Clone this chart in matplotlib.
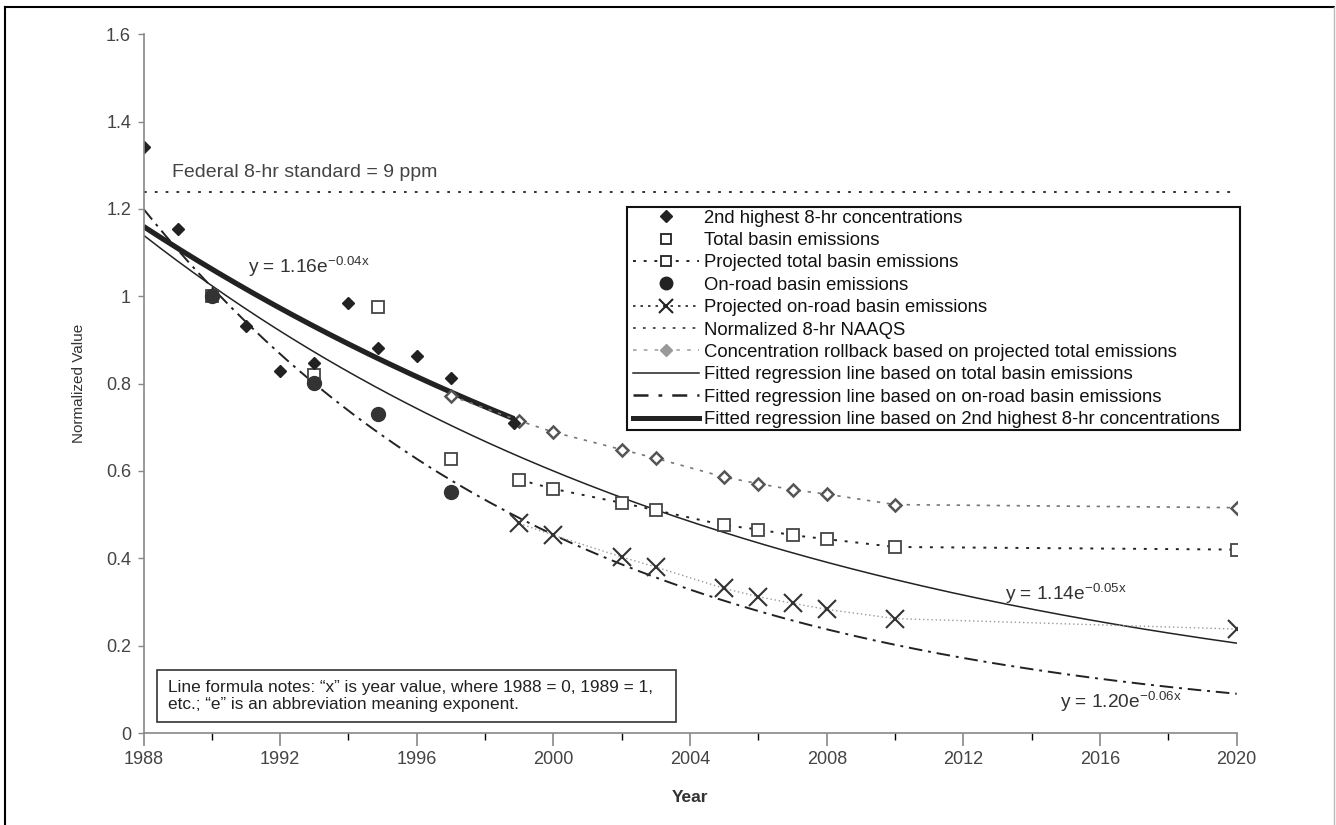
import numpy as np
import matplotlib
matplotlib.use('Agg')
import matplotlib.pyplot as plt
from matplotlib.lines import Line2D
from matplotlib.patches import Rectangle

plt.rcParams['font.family'] = ['Liberation Sans', 'DejaVu Sans']
plt.rcParams['mathtext.fontset'] = 'custom'
plt.rcParams['mathtext.rm'] = 'Liberation Sans'
plt.rcParams['mathtext.default'] = 'regular'

# observed data
conc_years = [1988, 1989, 1991, 1992, 1993, 1994, 1994.85, 1996, 1997, 1998.85]
conc_vals = [1.343, 1.153, 0.931, 0.830, 0.847, 0.984, 0.881, 0.864, 0.812, 0.710]

total_years = [1990, 1993, 1994.85, 1997]
total_vals = [1.0, 0.819, 0.975, 0.628]

onroad_years = [1990, 1993, 1994.85, 1997]
onroad_vals = [1.0, 0.801, 0.731, 0.553]

# projections
proj_years = [1999, 2000, 2002, 2003, 2005, 2006, 2007, 2008, 2010, 2020]
proj_total = [0.580, 0.559, 0.527, 0.510, 0.476, 0.466, 0.453, 0.444, 0.426, 0.420]
proj_onroad = [0.480, 0.453, 0.403, 0.380, 0.331, 0.312, 0.297, 0.283, 0.262, 0.238]
rollback_years = [1997, 1999, 2000, 2002, 2003, 2005, 2006, 2007, 2008, 2010, 2020]
rollback_vals = [0.772, 0.715, 0.689, 0.649, 0.629, 0.586, 0.571, 0.557, 0.547, 0.523, 0.516]

naaqs = 1.24

# fitted curves y = a*exp(-b*(year-1988)) as drawn
fit_conc = (1.16, 0.044, 1998.85)
fit_total = (1.14, 0.0535, 2020)
fit_onroad = (1.20, 0.081, 2020)

dark = '#222222'

fig = plt.figure(figsize=(13.36, 8.25), dpi=100)
ax = fig.add_axes([143.5 / 1336, 1 - 733 / 825, (1236.7 - 143.5) / 1336, (733 - 34.3) / 825])


def curve(p):
    a, b, end = p
    yrs = np.linspace(1988, end, 200)
    return yrs, a * np.exp(-b * (yrs - 1988))


def px(xp, yp):
    # pixel position -> axes fraction
    return (xp - 143.5) / 1093.2, (733 - yp) / 698.7


ax.plot([1988, 2020], [naaqs, naaqs], color=dark, lw=1.3, ls=(0, (1.5, 4.5)))

x, y = curve(fit_total)
ax.plot(x, y, color=dark, lw=1.1)
x, y = curve(fit_onroad)
ax.plot(x, y, color=dark, lw=1.4, ls=(0, (7, 3, 1.5, 3)))
x, y = curve(fit_conc)
ax.plot(x, y, color=dark, lw=3.8, solid_capstyle='butt')

ax.plot(rollback_years, rollback_vals, color='#777777', lw=1.2, ls=(0, (2, 4)),
        marker='D', ms=6.5, mfc='white', mec='#555555', mew=1.8)
ax.plot(proj_years, proj_total, color=dark, lw=1.4, ls=(0, (1.5, 4)),
        marker='s', ms=8, mfc='white', mec='#444444', mew=1.3)
ax.plot(proj_years, proj_onroad, color='#999999', lw=1.0, ls=(0, (1, 2)),
        marker='x', ms=13, mec='#333333', mew=1.5)

ax.plot(total_years, total_vals, ls='none', marker='s', ms=8, mfc='white', mec='#444444', mew=1.3)
ax.plot(onroad_years, onroad_vals, ls='none', marker='o', ms=10, color='#333333')
ax.plot(conc_years, conc_vals, ls='none', marker='D', ms=6.5, color='#222222')

ax.set_xlim(1988, 2020)
ax.set_ylim(0, 1.6)
ax.set_xticks(range(1988, 2021, 4))
ax.set_xticks(range(1988, 2021, 2), minor=True)
ax.set_yticks([0, 0.2, 0.4, 0.6, 0.8, 1.0, 1.2, 1.4, 1.6])
ax.set_yticklabels(['0', '0.2', '0.4', '0.6', '0.8', '1', '1.2', '1.4', '1.6'])
for s in ['top', 'right']:
    ax.spines[s].set_visible(False)
for s in ['left', 'bottom']:
    ax.spines[s].set_color('#888888')
    ax.spines[s].set_linewidth(1.2)
ax.tick_params(axis='both', colors='#888888', labelcolor='#444444', labelsize=13)
ax.tick_params(axis='x', which='major', length=9, width=1.2, pad=4)
ax.tick_params(axis='x', which='minor', length=5, width=1.0)
ax.tick_params(axis='y', length=4, width=1.0, pad=5)

ax.set_xlabel('Year', fontsize=12.5, color='#333333', fontweight='bold', labelpad=16)
ax.set_ylabel('Normalized Value', fontsize=11, color='#333333', labelpad=14)

ax.text(1988.84, 1.283, 'Federal 8-hr standard = 9 ppm', fontsize=14, color='#444444', va='center')
ax.text(1991.06, 1.068, 'y = 1.16e$^{-0.04x}$', fontsize=13.8, color='#333333', va='center')
ax.text(2013.23, 0.318, 'y = 1.14e$^{-0.05x}$', fontsize=13.8, color='#333333', va='center')
ax.text(2014.84, 0.07, 'y = 1.20e$^{-0.06x}$', fontsize=13.8, color='#333333', va='center')

# note box
ax.add_patch(Rectangle((1988.4, 0.025), 15.2, 0.119, fill=False, ec='#333333', lw=1.2))
ax.text(1988.72, 0.0845, 'Line formula notes: \u201cx\u201d is year value, where 1988 = 0, 1989 = 1,\n'
        'etc.; \u201ce\u201d is an abbreviation meaning exponent.', fontsize=12.4, color='#222222',
        va='center', linespacing=1.22)

handles = [
    Line2D([], [], ls='none', marker='D', ms=6, color='#222222'),
    Line2D([], [], ls='none', marker='s', ms=7, mfc='white', mec='#222222', mew=1.3),
    Line2D([], [], color=dark, lw=1.4, ls=(0, (1.5, 4)), marker='s', ms=7, mfc='white', mec='#222222', mew=1.3),
    Line2D([], [], ls='none', marker='o', ms=9, color='#222222'),
    Line2D([], [], color=dark, lw=1.2, ls=(0, (1.5, 3)), marker='x', ms=10, mec='#222222', mew=1.5),
    Line2D([], [], color='#444444', lw=1.3, ls=(0, (1.5, 4))),
    Line2D([], [], color='#aaaaaa', lw=1.3, ls=(0, (2, 4)), marker='D', ms=6, mfc='#999999', mec='#999999'),
    Line2D([], [], color=dark, lw=1.1),
    Line2D([], [], color=dark, lw=1.8, ls=(0, (6, 4, 1.5, 4))),
    Line2D([], [], color=dark, lw=3.6),
]
labels = [
    '2nd highest 8-hr concentrations',
    'Total basin emissions',
    'Projected total basin emissions',
    'On-road basin emissions',
    'Projected on-road basin emissions',
    'Normalized 8-hr NAAQS',
    'Concentration rollback based on projected total emissions',
    'Fitted regression line based on total basin emissions',
    'Fitted regression line based on on-road basin emissions',
    'Fitted regression line based on 2nd highest 8-hr concentrations',
]
leg = ax.legend(handles, labels, loc='upper left', bbox_to_anchor=px(630, 207),
                borderaxespad=0, fontsize=13.3, frameon=False, handlelength=3.6,
                handletextpad=0.25, borderpad=0.15, labelspacing=0.29, numpoints=1)
for t in leg.get_texts():
    t.set_color('#111111')
x0, y0 = px(627, 430)
x1, y1 = px(1240, 207)
ax.add_patch(Rectangle((x0, y0), x1 - x0, y1 - y0, transform=ax.transAxes, fc='white',
                       ec='#111111', lw=1.5, zorder=4.9, clip_on=False))

# outer frame of the scanned figure
fig.add_artist(Line2D([5 / 1336, 5 / 1336], [0, 1 - 7 / 825], color='black', lw=1.5, transform=fig.transFigure))
fig.add_artist(Line2D([5 / 1336, 1334 / 1336], [1 - 7 / 825, 1 - 7 / 825], color='black', lw=1.5, transform=fig.transFigure))
fig.add_artist(Line2D([1334 / 1336, 1334 / 1336], [0, 1 - 7 / 825], color='#bbbbbb', lw=1.0, transform=fig.transFigure))

fig.savefig('out.png', dpi=100)
